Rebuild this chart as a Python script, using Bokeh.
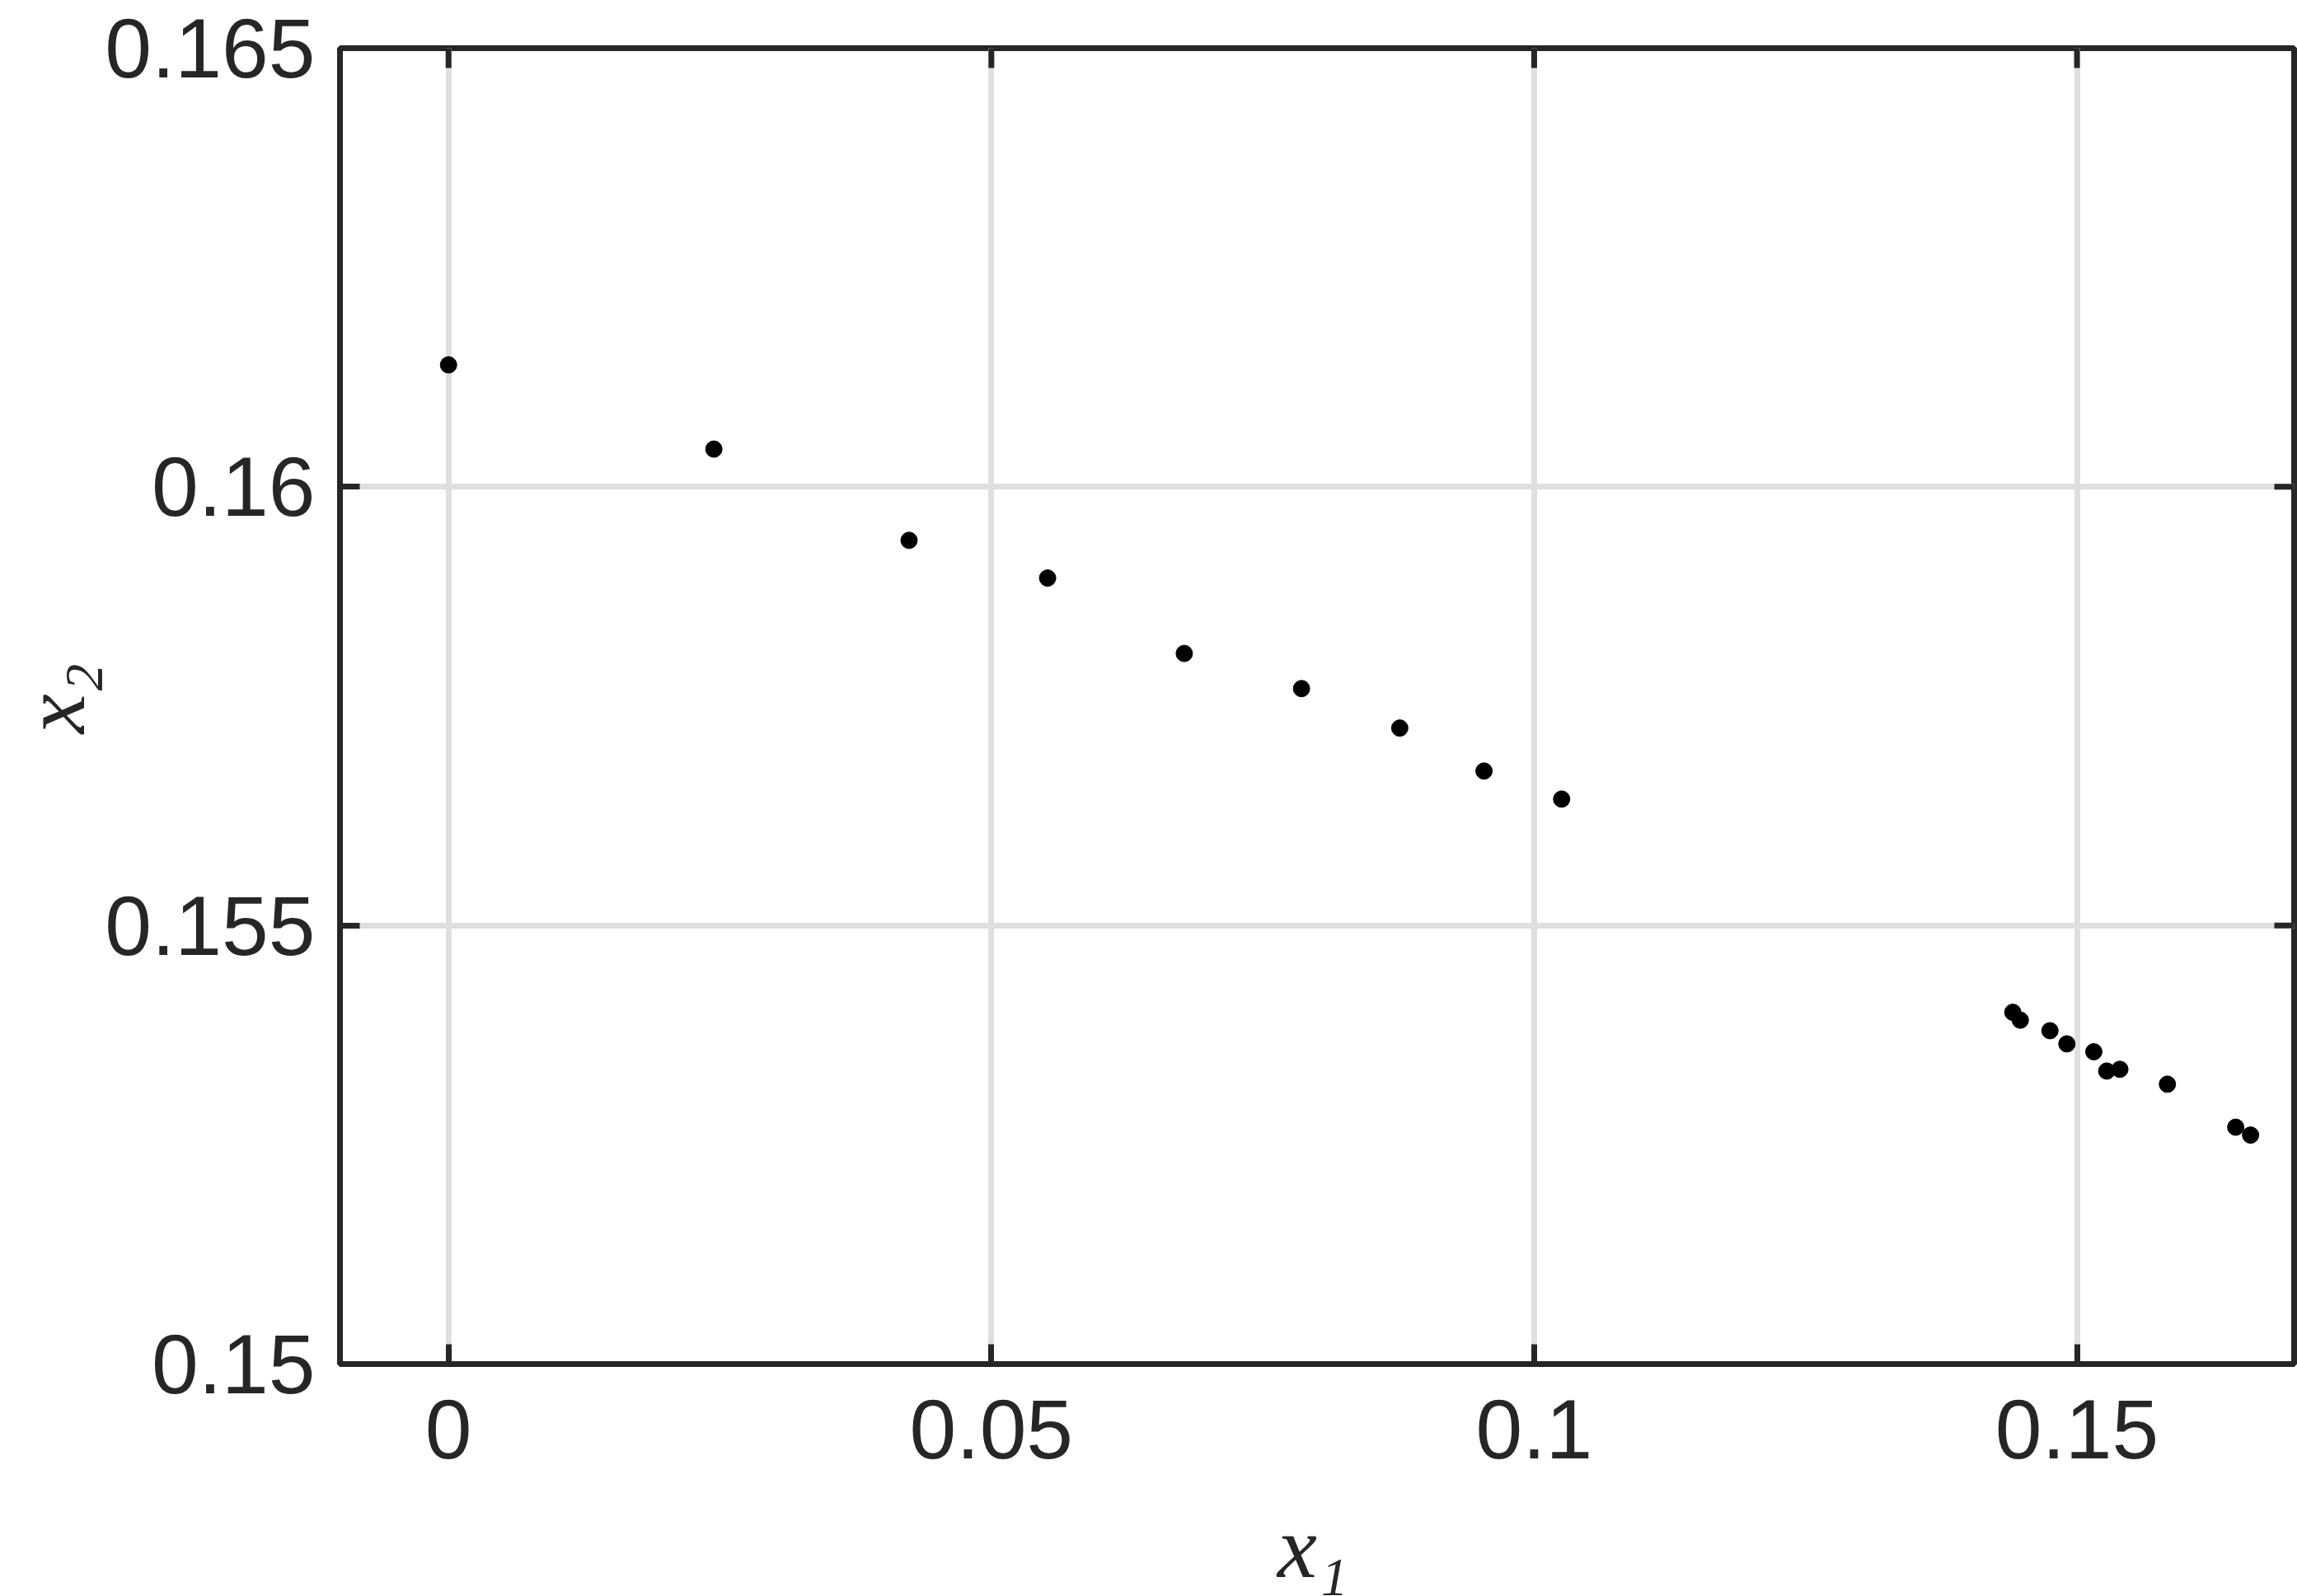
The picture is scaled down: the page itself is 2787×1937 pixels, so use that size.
import math
from bokeh.plotting import figure
from bokeh.layouts import row, column
from bokeh.models import FixedTicker, Range1d
from bokeh.core.properties import value
from bokeh.embed import file_html
from bokeh.resources import INLINE

# data
x1 = [0.0, 0.02444, 0.04242, 0.05518, 0.06777, 0.07857, 0.08762, 0.09538, 0.10253,
      0.14409, 0.14478, 0.14751, 0.14907, 0.15155, 0.15274, 0.15395, 0.15833,
      0.16462, 0.16599]
x2 = [0.16139, 0.16043, 0.15939, 0.15896, 0.15810, 0.15770, 0.15725, 0.15676, 0.15644,
      0.15401, 0.15392, 0.15380, 0.15365, 0.15356, 0.15334, 0.15336, 0.15319,
      0.15270, 0.15261]

x_ticks = [0, 0.05, 0.1, 0.15]
x_tick_labels = ["0", "0.05", "0.1", "0.15"]
y_ticks = [0.15, 0.155, 0.16, 0.165]
y_tick_labels = ["0.15", "0.155", "0.16", "0.165"]
x_label = "x₁"
y_label = "x₂"

X_RANGE = (-0.01, 0.17)
Y_RANGE = (0.15, 0.165)

DARK = "#262626"
TICK_LEN = 24
LW = 7
W, H = 2787, 1937          # whole page content
YLAB_W = 124                # strip holding the y label
MAIN_W = W - YLAB_W
MAIN_H = 1815
B_LEFT, B_RIGHT, B_TOP, B_BOTTOM = 409 - YLAB_W, 4, 58, 1655 - 1815 + 2 * 80

main = figure(width=MAIN_W, height=MAIN_H,
              x_range=Range1d(*X_RANGE), y_range=Range1d(*Y_RANGE),
              output_backend="svg", toolbar_location=None,
              min_border_left=B_LEFT, min_border_right=B_RIGHT,
              min_border_top=B_TOP, min_border_bottom=MAIN_H - 1655)
main.background_fill_color = "white"
main.border_fill_color = "white"
main.outline_line_color = DARK
main.outline_line_width = LW
main.outline_line_alpha = 1.0

for g, t in ((main.xgrid[0], x_ticks), (main.ygrid[0], y_ticks)):
    g.ticker = FixedTicker(ticks=t)
    g.grid_line_color = "#dfdfdf"
    g.grid_line_width = LW

# mirrored inward ticks on the top and right edges
FRAME_W = MAIN_W - B_LEFT - B_RIGHT
FRAME_H = 1655 - B_TOP
dy = TICK_LEN * (Y_RANGE[1] - Y_RANGE[0]) / FRAME_H
dx = TICK_LEN * (X_RANGE[1] - X_RANGE[0]) / FRAME_W
main.segment(x0=x_ticks, x1=x_ticks,
             y0=[Y_RANGE[1]] * len(x_ticks), y1=[Y_RANGE[1] - dy] * len(x_ticks),
             line_color=DARK, line_width=LW)
main.segment(x0=[X_RANGE[1]] * len(y_ticks), x1=[X_RANGE[1] - dx] * len(y_ticks),
             y0=y_ticks, y1=y_ticks,
             line_color=DARK, line_width=LW)

main.scatter(x1, x2, size=20, color="black")


def style(ax, ticks, labels):
    ax.ticker = FixedTicker(ticks=ticks)
    ax.major_tick_in = TICK_LEN
    ax.major_tick_out = 0
    ax.minor_tick_in = 0
    ax.minor_tick_out = 0
    ax.major_tick_line_color = DARK
    ax.major_tick_line_width = LW
    ax.axis_line_color = DARK
    ax.axis_line_width = LW
    ax.major_label_overrides = dict(zip(ticks, labels))
    ax.major_label_text_font = "Liberation Sans"
    ax.major_label_text_font_size = "102px"
    ax.major_label_text_color = DARK


style(main.below[0], x_ticks, x_tick_labels)
style(main.left[0], y_ticks, y_tick_labels)
main.below[0].major_label_standoff = 43
main.left[0].major_label_standoff = 30

label_font = dict(text_font=value("Liberation Serif"), text_font_style="italic",
                  text_font_size="108px", text_color=DARK)


def strip(width, height, **borders):
    f = figure(width=width, height=height, output_backend="svg",
               toolbar_location=None, x_axis_type=None, y_axis_type=None,
               min_border_left=borders.get("left", 0),
               min_border_right=borders.get("right", 0),
               min_border_top=0, min_border_bottom=0)
    f.outline_line_color = None
    f.background_fill_color = "white"
    f.border_fill_color = "white"
    return f


# x label strip below the main plot, sharing its x range
xlab = strip(MAIN_W, H - MAIN_H, left=B_LEFT, right=B_RIGHT)
xlab.x_range = main.x_range
xlab.y_range = Range1d(0, 1)
xlab.text(x=[0.0796], y=[0.492], text=[x_label],
          text_align="center", text_baseline="alphabetic", **label_font)

# y label strip to the left
ylab = strip(YLAB_W, H)
ylab.x_range = Range1d(0, 1)
ylab.y_range = Range1d(0, 1)
ylab.text(x=[0.524], y=[0.5627], text=[y_label], angle=math.pi / 2,
          text_align="center", text_baseline="alphabetic", **label_font)

layout = row(ylab, column(main, xlab, spacing=0), spacing=0)

open("out.html", "w").write(file_html(layout, INLINE))
